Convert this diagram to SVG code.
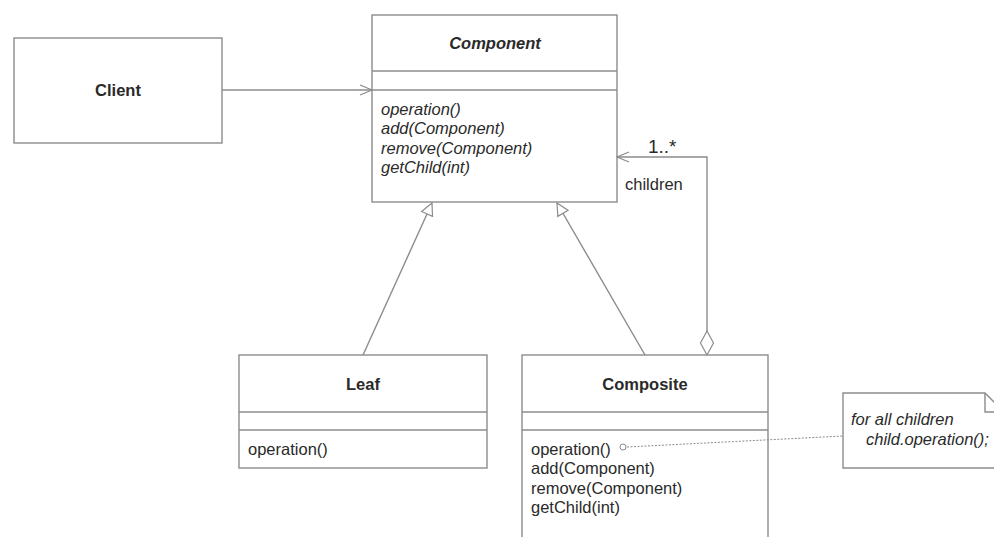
<svg xmlns="http://www.w3.org/2000/svg" width="994" height="537" viewBox="0 0 994 537">
<style>
.box{fill:#fff;stroke:#8c8c8c;stroke-width:1.4}
.ln{fill:none;stroke:#8c8c8c;stroke-width:1.4}
.t{font-family:"Liberation Sans",Arial,sans-serif;font-size:16.5px;fill:#2a2a2a}
.b{font-weight:bold;text-anchor:middle}
.i{font-style:italic}
.dash{fill:none;stroke:#8c8c8c;stroke-width:1;stroke-dasharray:2 1.5}
</style>
<defs>
<marker id="open" markerWidth="14" markerHeight="12" refX="13" refY="6" orient="auto" markerUnits="userSpaceOnUse">
<path d="M1,1 L13,6 L1,11" fill="none" stroke="#8c8c8c" stroke-width="1.2"/>
</marker>
<marker id="tri" markerWidth="14" markerHeight="14" refX="13" refY="7" orient="auto" markerUnits="userSpaceOnUse">
<path d="M1,1 L13,7 L1,13 Z" fill="#fff" stroke="#8c8c8c" stroke-width="1.2"/>
</marker>
<marker id="dia" markerWidth="28" markerHeight="16" refX="1" refY="8" orient="auto" markerUnits="userSpaceOnUse">
<path d="M1,8 L13,1.5 L25,8 L13,14.5 Z" fill="#fff" stroke="#8c8c8c" stroke-width="1.2"/>
</marker>
</defs>

<g id="client">
<rect class="box" x="14" y="38" width="208" height="105"/>
<text class="t b" x="118" y="96">Client</text>
</g>

<g id="component">
<rect class="box" x="372" y="15" width="245" height="187"/>
<line class="ln" x1="372" y1="71" x2="617" y2="71"/>
<line class="ln" x1="372" y1="90" x2="617" y2="90"/>
<text class="t b i" x="495" y="49">Component</text>
<text class="t i" x="381" y="115">operation()</text>
<text class="t i" x="381" y="134">add(Component)</text>
<text class="t i" x="381" y="154">remove(Component)</text>
<text class="t i" x="381" y="173">getChild(int)</text>
</g>

<g id="leaf">
<rect class="box" x="239" y="355" width="248" height="113"/>
<line class="ln" x1="239" y1="412" x2="487" y2="412"/>
<line class="ln" x1="239" y1="430" x2="487" y2="430"/>
<text class="t b" x="363" y="390">Leaf</text>
<text class="t" x="248" y="455">operation()</text>
</g>

<g id="composite">
<rect class="box" x="522" y="355" width="246" height="190"/>
<line class="ln" x1="522" y1="412" x2="768" y2="412"/>
<line class="ln" x1="522" y1="430" x2="768" y2="430"/>
<text class="t b" x="645" y="390">Composite</text>
<text class="t" x="531" y="455">operation()</text>
<text class="t" x="531" y="474">add(Component)</text>
<text class="t" x="531" y="494">remove(Component)</text>
<text class="t" x="531" y="513">getChild(int)</text>
</g>

<g id="note">
<path class="box" d="M843,393 H985 L1004,412 V468 H843 Z"/>
<path class="ln" d="M985,393 V412 H1004"/>
<text class="t i" x="851" y="425">for all children</text>
<text class="t i" x="866" y="445">child.operation();</text>
</g>

<g id="connectors">
<line class="ln" x1="222" y1="90" x2="372" y2="90" marker-end="url(#open)"/>
<line class="ln" x1="363" y1="355" x2="432" y2="203" marker-end="url(#tri)"/>
<line class="ln" x1="645" y1="355" x2="557" y2="203" marker-end="url(#tri)"/>
<polyline class="ln" points="707,355 707,157 617,157" marker-start="url(#dia)" marker-end="url(#open)"/>
<text class="t" x="648" y="153" style="font-size:19px">1..*</text>
<text class="t" x="625" y="190">children</text>
<line class="dash" x1="627" y1="447" x2="843" y2="436"/>
<circle cx="623" cy="447" r="3" fill="#fff" stroke="#8c8c8c" stroke-width="1"/>
</g>
</svg>
